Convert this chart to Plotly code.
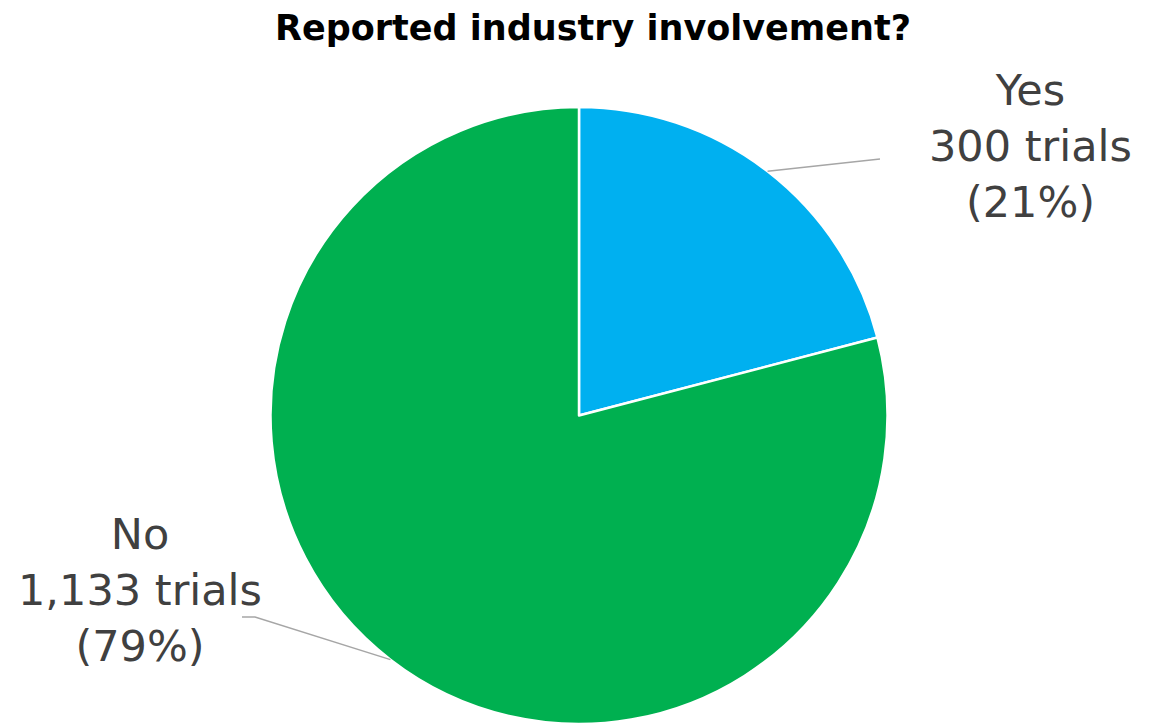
import math
import plotly.graph_objects as go

# Data
categories = ["Yes", "No"]
trials = [300, 1133]
colors = ["#00B0F0", "#00B050"]

W, H = 1158, 724
M_T, M_B, M_L, M_R = 107, 0, 0, 0
PW, PH = W - M_L - M_R, H - M_T - M_B
cx, cy = M_L + PW / 2, M_T + PH / 2
R = min(PW, PH) / 2

def px(x):
    return (x - M_L) / PW

def py(y):
    return (H - M_B - y) / PH

fig = go.Figure(go.Pie(
    labels=categories, values=trials, sort=False, direction="clockwise",
    rotation=0, textinfo="none", hoverinfo="label+value+percent",
    marker=dict(colors=colors, line=dict(color="white", width=2.5)),
    showlegend=False, domain=dict(x=[0, 1], y=[0, 1]),
))

total = sum(trials)
label_pos = {"Yes": (1030, 146, 880, 159), "No": (140, 590, 245, 617)}
annotations = []
shapes = []
cum = 0
for lab, v in zip(categories, trials):
    frac = v / total
    mid = 90 - (cum + frac / 2) * 360
    cum += frac
    ex = cx + R * math.cos(math.radians(mid))
    ey = cy - R * math.sin(math.radians(mid))
    tx, ty, lx, ly = label_pos[lab]
    pct = round(frac * 100)
    annotations.append(dict(
        x=px(tx), y=py(ty), xref="paper", yref="paper", showarrow=False,
        text=f"{lab}<br>{v:,} trials<br>({pct}%)", align="center",
        font=dict(family="DejaVu Sans, sans-serif", size=43, color="#404040"),
        xanchor="center", yanchor="middle",
    ))
    shapes.append(dict(type="path", xref="paper", yref="paper",
                       path=f"M {px(ex)} {py(ey)} L {px(lx + (0 if lab=='Yes' else 10))} {py(ly)} L {px(lx + (0 if lab=='Yes' else -3))} {py(ly)}",
                       line=dict(color="#A6A6A6", width=1.5)))

fig.update_layout(
    width=W, height=H,
    margin=dict(t=M_T, b=M_B, l=M_L, r=M_R),
    paper_bgcolor="white", plot_bgcolor="white",
    title=dict(text="<b>Reported industry involvement?</b>", x=593 / W, xanchor="center",
               y=1 - 28 / H, yanchor="middle", yref="container",
               font=dict(family="DejaVu Sans, sans-serif", size=35, color="#000000")),
    annotations=annotations, shapes=shapes,
)

fig.write_html("out.html")
